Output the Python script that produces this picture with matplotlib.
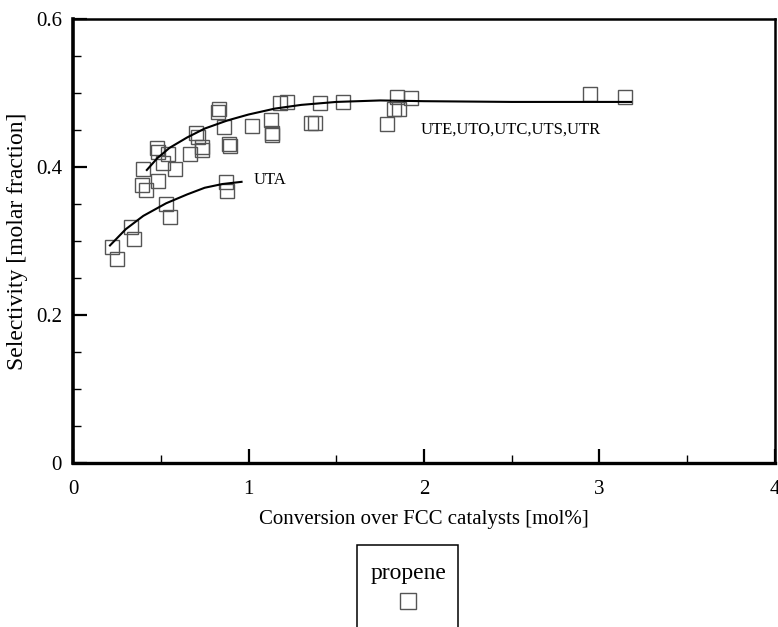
import matplotlib.pyplot as plt
from matplotlib.lines import Line2D
from matplotlib.patches import Rectangle
from matplotlib.ticker import MultipleLocator

plt.rcParams['font.family'] = ['Liberation Serif', 'DejaVu Serif']

# propene selectivity, UTE/UTO/UTC/UTS/UTR catalysts
x_main = [0.399, 0.395, 0.416, 0.479, 0.484, 0.486, 0.515, 0.538, 0.581, 0.667,
          0.699, 0.714, 0.733, 0.737, 0.824, 0.834, 0.862, 0.889, 0.895, 1.022,
          1.130, 1.132, 1.135, 1.180, 1.218, 1.355, 1.379, 1.407, 1.540, 1.787,
          1.829, 1.848, 1.860, 1.924, 2.946, 3.145]
y_main = [0.397, 0.376, 0.369, 0.426, 0.420, 0.381, 0.405, 0.418, 0.397, 0.418,
          0.446, 0.441, 0.427, 0.423, 0.474, 0.478, 0.454, 0.431, 0.429, 0.456,
          0.464, 0.446, 0.443, 0.486, 0.488, 0.459, 0.459, 0.487, 0.488, 0.458,
          0.478, 0.495, 0.478, 0.493, 0.499, 0.494]

# UTA catalyst
x_uta = [0.224, 0.249, 0.327, 0.348, 0.528, 0.553, 0.870, 0.879]
y_uta = [0.292, 0.276, 0.319, 0.303, 0.350, 0.332, 0.380, 0.368]

# trend curves
cx_main = [0.42, 0.48, 0.55, 0.65, 0.75, 0.88, 1.0, 1.15, 1.3, 1.5, 1.75, 2.0, 2.5, 3.0, 3.18]
cy_main = [0.396, 0.412, 0.426, 0.440, 0.452, 0.463, 0.471, 0.479, 0.484, 0.488,
           0.490, 0.489, 0.488, 0.488, 0.488]
cx_uta = [0.21, 0.30, 0.40, 0.53, 0.65, 0.75, 0.85, 0.96]
cy_uta = [0.294, 0.316, 0.334, 0.351, 0.363, 0.372, 0.377, 0.380]

xticks = [0, 1, 2, 3, 4]
yticks = [0, 0.2, 0.4, 0.6]
ytick_labels = ['0', '0.2', '0.4', '0.6']

fig = plt.figure(figsize=(7.78, 6.27), dpi=100)
ax = fig.add_axes([0.094, 0.2616, 0.902, 0.708])

mk = dict(marker='s', ms=10.5, mfc='none', mec='#555555', mew=1.0, ls='none')
ax.plot(x_main, y_main, **mk)
ax.plot(x_uta, y_uta, **mk)
ax.plot(cx_main, cy_main, color='black', lw=1.5)
ax.plot(cx_uta, cy_uta, color='black', lw=1.5)

ax.text(1.03, 0.382, 'UTA', fontsize=12, va='center', ha='left')
ax.text(1.98, 0.450, 'UTE,UTO,UTC,UTS,UTR', fontsize=12, va='center', ha='left')

ax.set_xlim(0, 4)
ax.set_ylim(0, 0.6)
ax.set_xticks(xticks)
ax.set_xticklabels([str(t) for t in xticks])
ax.set_yticks(yticks)
ax.set_yticklabels(ytick_labels)
ax.xaxis.set_minor_locator(MultipleLocator(0.5))
ax.yaxis.set_minor_locator(MultipleLocator(0.05))
ax.tick_params(which='major', direction='in', length=10, width=1.6, labelsize=15, pad=8)
ax.tick_params(which='minor', direction='in', length=5.5, width=1.0)
ax.tick_params(axis='x', which='major', pad=12)
for s in ax.spines.values():
    s.set_linewidth(1.8)
ax.spines['left'].set_linewidth(2.6)
ax.spines['bottom'].set_linewidth(2.4)

ax.set_xlabel('Conversion over FCC catalysts [mol%]', fontsize=15, labelpad=8)
ax.set_ylabel('Selectivity [molar fraction]', fontsize=17, labelpad=6)

# legend box, cut off at the bottom like the original
fig.patches.append(Rectangle((357 / 778, -0.05), 101 / 778, 1 - 545 / 627 + 0.05,
                             transform=fig.transFigure, fill=False, ec='black', lw=1.1))
fig.text(409 / 778, 1 - 574 / 627, 'propene', fontsize=17, ha='center', va='center')
fig.lines.append(Line2D([408 / 778], [1 - 601 / 627], transform=fig.transFigure,
                        marker='s', ms=11, mfc='none', mec='#555555', mew=1.0))

fig.savefig('out.png', dpi=100)
